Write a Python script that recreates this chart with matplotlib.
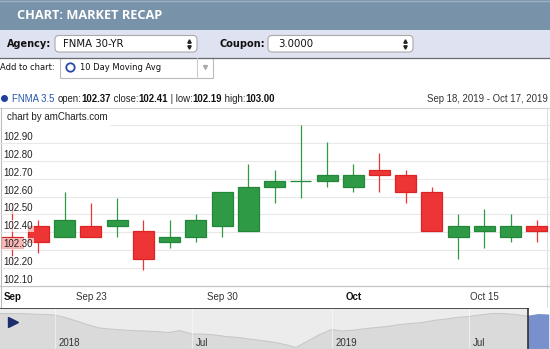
import numpy as np
import pandas as pd
import matplotlib
matplotlib.use("Agg")
import matplotlib.pyplot as plt
import matplotlib.transforms as mtransforms
from matplotlib.patches import Rectangle, FancyBboxPatch, Circle

W, H = 550, 349

# daily candles, Sep 18 - Oct 17 2019 (prices in 32nds)
opens = [102.375, 102.4375, 102.375, 102.4375, 102.4375, 102.40625, 102.34375,
         102.375, 102.4375, 102.40625, 102.65625, 102.6875, 102.6875, 102.65625,
         102.75, 102.71875, 102.625, 102.375, 102.40625, 102.375, 102.4375]
highs = [102.5625, 102.46875, 102.625, 102.5625, 102.59375, 102.46875, 102.46875,
         102.5, 102.625, 102.78125, 102.75, 103.0, 102.90625, 102.78125,
         102.84375, 102.75, 102.65625, 102.5, 102.53125, 102.5, 102.46875]
lows = [102.21875, 102.28125, 102.375, 102.375, 102.375, 102.1875, 102.3125,
        102.34375, 102.375, 102.40625, 102.5625, 102.59375, 102.65625, 102.625,
        102.625, 102.5625, 102.40625, 102.25, 102.3125, 102.34375, 102.34375]
closes = [102.3125, 102.34375, 102.46875, 102.375, 102.46875, 102.25, 102.375,
          102.46875, 102.625, 102.65625, 102.6875, 102.6875, 102.71875, 102.71875,
          102.71875, 102.625, 102.40625, 102.4375, 102.4375, 102.4375, 102.40625]

tick_idx = [0, 3, 8, 13, 18]
tick_labels = ["Sep", "Sep 23", "Sep 30", "Oct", "Oct 15"]
bold_ticks = ["Sep", "Oct"]
y_ticks = [102.1, 102.2, 102.3, 102.4, 102.5, 102.6, 102.7, 102.8, 102.9]
grid_vals = [102.2, 102.3, 102.4, 102.5, 102.6, 102.7, 102.8, 102.9, 103.0]

# scrollbar overview series (semi-monthly)
scroll_dates = pd.date_range("2017-10-15", "2019-10-15", freq="SMS")
scroll_vals = [103.45, 103.45, 103.45, 103.40, 103.35,
               103.30, 103.05, 102.65, 102.30, 102.00, 101.90, 101.80, 101.73,
               101.70, 101.65, 101.55, 101.75, 101.40, 101.40, 101.30, 101.15,
               101.05, 100.90, 100.75, 100.60, 100.35, 100.05, 100.70, 101.30,
               101.85, 101.70, 101.80, 101.95, 102.05, 102.15, 102.35, 102.45,
               102.55, 102.75, 102.90, 103.05, 103.15, 103.30, 103.45, 103.45,
               103.35, 103.20, 103.40, 103.35]
scroll_ticks = ["2018-01-01", "2018-07-01", "2019-01-01", "2019-07-01"]
scroll_tick_labels = ["2018", "Jul", "2019", "Jul"]

GREEN = "#2f9a45"
GREEN_EDGE = "#22873a"
RED = "#ee3535"
RED_EDGE = "#dd2424"
CHART_FONT = "Liberation Sans"
UI_FONT = "DejaVu Sans"


def px_rect(x0, y0, x1, y1):
    return [x0 / W, 1 - y1 / H, (x1 - x0) / W, (y1 - y0) / H]


fig = plt.figure(figsize=(W / 100, H / 100), dpi=100)
fig.patch.set_facecolor("white")
renderer = fig.canvas.get_renderer()

# ---- page chrome (pixel coordinates) ----
bg = fig.add_axes([0, 0, 1, 1], zorder=0)
bg.set_xlim(0, W)
bg.set_ylim(H, 0)
bg.axis("off")

bg.add_patch(Rectangle((0, 0), W, 30, color="#7892a9", lw=0))
bg.plot([0, W], [0.5, 0.5], color="#9db1c2", lw=1)
bg.text(17, 15.5, "CHART: MARKET RECAP", color="white", fontsize=9.2,
        fontweight="bold", family="Open Sans", va="center")

bg.add_patch(Rectangle((0, 30), W, 27.5, color="#dfe2f0", lw=0))
bg.plot([0, W], [57.5, 57.5], color="#6a6a6a", lw=0.9)

for x0, w, label, lx, sx, s in [(55, 142, "Agency:", 7, 63, "FNMA 30-YR"),
                                (268, 145, "Coupon:", 220, 278, "3.0000")]:
    bg.add_patch(FancyBboxPatch((x0, 35.5), w, 16.5,
                                boxstyle="round,pad=0,rounding_size=4",
                                facecolor="white", edgecolor="#aaaaaa", lw=0.8))
    bg.text(lx, 44, label, fontsize=7, fontweight="bold", family=UI_FONT,
            va="center", color="#111111")
    bg.text(sx, 44, s, fontsize=7.3, family=UI_FONT, va="center", color="#111111")
    bg.plot([x0 + w - 8], [41.3], marker="^", ms=2.4, color="#222222", lw=0)
    bg.plot([x0 + w - 8], [46.7], marker="v", ms=2.4, color="#222222", lw=0)

bg.text(0, 67.5, "Add to chart:", fontsize=6, family=UI_FONT, va="center",
        color="#111111")
bg.add_patch(Rectangle((60, 57.5), 153, 20.5, facecolor="white",
                       edgecolor="#bbbbbb", lw=0.8))
bg.plot([196.5, 196.5], [57.5, 78], color="#cccccc", lw=0.8)
bg.plot([204.5], [67], marker="v", ms=2.8, color="#aaaaaa", lw=0)
bg.add_patch(Circle((70.5, 67.5), 4.2, facecolor="white", edgecolor="#2a4aa8", lw=1.3))
bg.text(80, 67.5, "10 Day Moving Avg", fontsize=6, family=UI_FONT, va="center",
        color="#111111")

# legend / value line
bg.add_patch(Circle((4.5, 98.5), 3.5, color="#1f3f9f", lw=0))
parts = [("FNMA 3.5 ", "normal", "#2255aa"), ("open:", "normal", "#222222"),
         ("102.37", "bold", "#111111"), (" close:", "normal", "#222222"),
         ("102.41", "bold", "#111111"), (" | low:", "normal", "#222222"),
         ("102.19", "bold", "#111111"), (" high:", "normal", "#222222"),
         ("103.00", "bold", "#111111")]
x = 12.5
for s, wgt, col in parts:
    t = bg.text(x, 98.5, s, fontsize=6.95, fontweight=wgt, family=CHART_FONT,
                va="center", color=col)
    x += t.get_window_extent(renderer).width
bg.text(548, 98.5, "Sep 18, 2019 - Oct 17, 2019", fontsize=6.9, family=CHART_FONT,
        va="center", ha="right", color="#333333")
bg.plot([0, W], [107.5, 107.5], color="#cfcfcf", lw=0.8)
bg.plot([0.5, 0.5], [107.5, 308], color="#bbbbbb", lw=0.8)
bg.plot([546.5, 546.5], [107.5, 308], color="#dddddd", lw=0.8)

# ---- candlestick chart ----
ax = fig.add_axes(px_rect(0, 107.5, 550, 285.7), zorder=2)
ax.set_facecolor("none")
ax.set_xlim(-0.465, 20.5)
ax.set_ylim(102.1, 103.1)
for v in grid_vals:
    ax.axhline(v, color="#e8e8e8", lw=0.8, zorder=0)

for i, (o, h, l, c) in enumerate(zip(opens, highs, lows, closes)):
    up = c >= o
    face = GREEN if up else RED
    edge = GREEN_EDGE if up else RED_EDGE
    ax.plot([i, i], [l, h], color=face, lw=0.9, zorder=2, solid_capstyle="butt")
    ax.add_patch(Rectangle((i - 0.4, min(o, c)), 0.8, abs(c - o),
                           facecolor=face, edgecolor=edge, lw=0.9, zorder=3))

lbl_tr = mtransforms.blended_transform_factory(ax.transAxes, ax.transData)
for v in y_ticks:
    ax.text(0.006, v + 0.034, f"{v:.2f}", transform=lbl_tr, fontsize=7,
            family=CHART_FONT, va="center", color="#222222", zorder=5,
            bbox=dict(facecolor="white", edgecolor="none", alpha=0.65, pad=0.6))
ax.text(0.012, 103.045, "chart by amCharts.com", transform=lbl_tr, fontsize=7,
        family=CHART_FONT, va="center", color="#222222", zorder=5,
        bbox=dict(facecolor="white", edgecolor="none", pad=2.5))

ax.set_yticks([])
ax.set_xticks(tick_idx, tick_labels)
ax.tick_params(axis="x", length=0, pad=4.5, labelsize=7, labelcolor="#333333")
for t in ax.get_xticklabels():
    t.set_family(CHART_FONT)
    if t.get_text() in bold_ticks:
        t.set_fontweight("bold")
        t.set_color("#111111")
for side in ["top", "left", "right"]:
    ax.spines[side].set_visible(False)
ax.spines["bottom"].set_color("#c4c4c4")
ax.spines["bottom"].set_linewidth(0.9)

# ---- scrollbar ----
sx = fig.add_axes(px_rect(0, 308, 550, 349), zorder=1)
sx.set_facecolor("#ececec")
x0d, x1d = pd.Timestamp("2017-10-21"), pd.Timestamp("2019-10-16")
sel0 = pd.Timestamp("2019-09-17")
sx.set_xlim(x0d, x1d)
sx.set_ylim(99.9, 104.0)
sx.fill_between(scroll_dates, scroll_vals, 99.9, color="#dadada", lw=0, zorder=1)
sx.plot(scroll_dates, scroll_vals, color="#c6c6c6", lw=0.7, zorder=2)
for d in scroll_ticks:
    sx.axvline(pd.Timestamp(d), color="white", lw=0.8, alpha=0.5, zorder=2)
sx.axvspan(sel0, x1d, color="white", lw=0, zorder=3)
clip = Rectangle((matplotlib.dates.date2num(sel0), 99.9),
                 matplotlib.dates.date2num(x1d) - matplotlib.dates.date2num(sel0),
                 4.1, transform=sx.transData)
blue = sx.fill_between(scroll_dates, scroll_vals, 99.9, color="#7890cc", lw=0, zorder=4)
blue.set_clip_path(clip)
sx.plot([x0d, sel0], [103.97, 103.97], color="#333333", lw=1.2, zorder=5)
sx.axvline(sel0, color="#333333", lw=1.2, zorder=5)
for d, s in zip(scroll_ticks, scroll_tick_labels):
    sx.text(pd.Timestamp(d) + pd.Timedelta(days=5), 100.55, s, fontsize=7,
            family=CHART_FONT, color="#333333", va="center", zorder=6)
sx.plot([0.023], [0.65], marker=">", ms=7, color="#1c2d6b", lw=0,
        transform=sx.transAxes, zorder=6)
sx.set_xticks([])
sx.set_yticks([])
for sp in sx.spines.values():
    sp.set_visible(False)
sx.axhline(99.93, color="#b0bedc", lw=0.8, zorder=6)

fig.savefig("out.png", dpi=100)
